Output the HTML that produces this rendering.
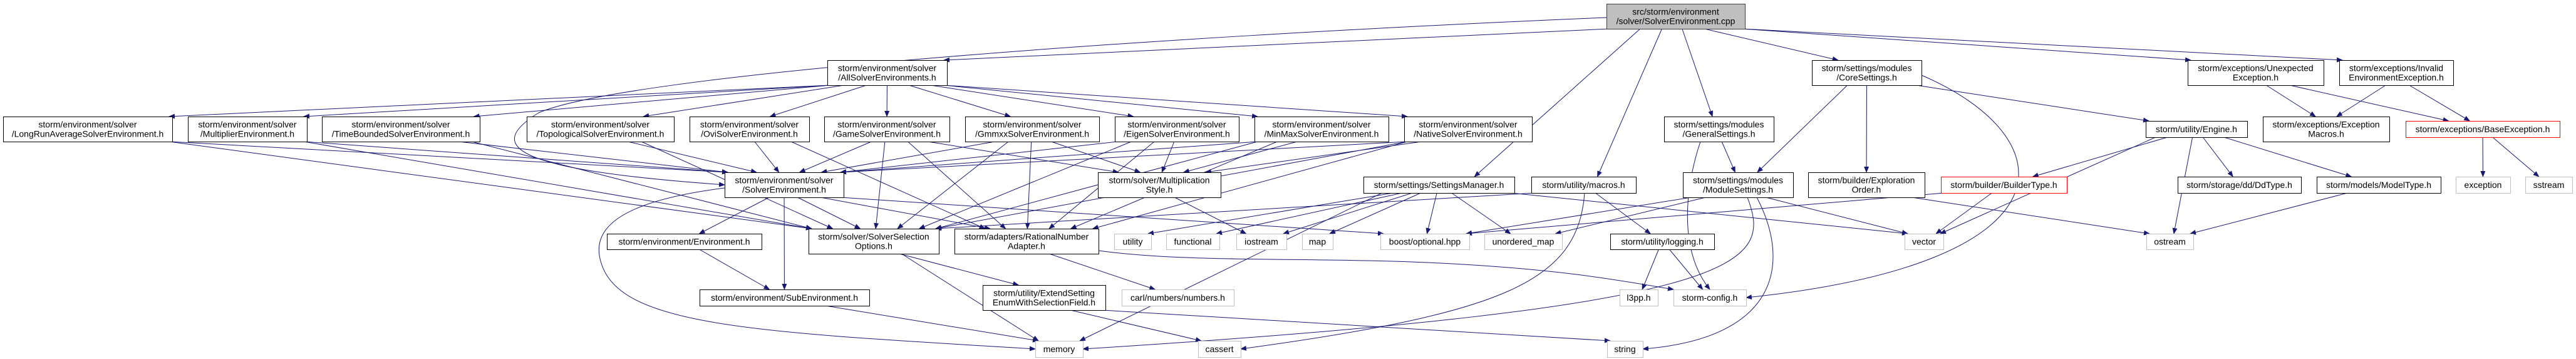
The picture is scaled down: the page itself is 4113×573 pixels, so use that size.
<!DOCTYPE html>
<html><head><meta charset="utf-8"><style>
html,body{margin:0;padding:0;background:#fff;}
svg{display:block;}
text{font-family:"Liberation Sans",sans-serif;font-size:14px;fill:#000;}
</style></head><body>
<svg id="g" width="4113" height="573" viewBox="0 0 4113 573" xmlns="http://www.w3.org/2000/svg">
<defs><marker id="a" markerWidth="10" markerHeight="8" refX="9" refY="4" orient="auto" markerUnits="userSpaceOnUse"><path d="M0,0 L10,4 L0,8 z" fill="#191970"/></marker></defs>
<g id="e" stroke="#191970" stroke-width="1" fill="none"></g>
<g id="n"></g>
</svg>
<script>
var N={
cpp:[2565,2786,6,46,["src/storm/environment","/solver/SolverEnvironment.cpp"],"c"],
all:[1321,1512,96,136,["storm/environment/solver","/AllSolverEnvironments.h"],"b"],
lra:[5,275,186,226,["storm/environment/solver","/LongRunAverageSolverEnvironment.h"],"b"],
mul:[300,490,186,226,["storm/environment/solver","/MultiplierEnvironment.h"],"b"],
tb:[514,766,186,226,["storm/environment/solver","/TimeBoundedSolverEnvironment.h"],"b"],
top:[841,1076,186,226,["storm/environment/solver","/TopologicalSolverEnvironment.h"],"b"],
ovi:[1101,1292,186,226,["storm/environment/solver","/OviSolverEnvironment.h"],"b"],
game:[1316,1516,186,226,["storm/environment/solver","/GameSolverEnvironment.h"],"b"],
gmm:[1541,1755,186,226,["storm/environment/solver","/GmmxxSolverEnvironment.h"],"b"],
eig:[1780,1978,186,226,["storm/environment/solver","/EigenSolverEnvironment.h"],"b"],
mm:[2003,2217,186,226,["storm/environment/solver","/MinMaxSolverEnvironment.h"],"b"],
nat:[2242,2446,186,226,["storm/environment/solver","/NativeSolverEnvironment.h"],"b"],
se:[1157,1347,275,315,["storm/environment/solver","/SolverEnvironment.h"],"b"],
env:[969,1216,373,398,["storm/environment/Environment.h"],"b"],
sub:[1117,1388,462,488,["storm/environment/SubEnvironment.h"],"b"],
sso:[1291,1499,365,405,["storm/solver/SolverSelection","Options.h"],"b"],
ms:[1753,1949,275,315,["storm/solver/Multiplication","Style.h"],"b"],
sm:[2177,2418,282,308,["storm/settings/SettingsManager.h"],"b"],
mac:[2445,2612,282,308,["storm/utility/macros.h"],"b"],
rna:[1524,1754,365,405,["storm/adapters/RationalNumber","Adapter.h"],"b"],
util:[1779,1838,373,398,["utility"],"g"],
func:[1862,1947,373,398,["functional"],"g"],
ios:[1974,2054,373,398,["iostream"],"g"],
map:[2079,2128,373,398,["map"],"g"],
opt:[2204,2346,373,398,["boost/optional.hpp"],"g"],
um:[2370,2494,373,398,["unordered_map"],"g"],
log:[2571,2737,373,398,["storm/utility/logging.h"],"b"],
ext:[1569,1765,455,495,["storm/utility/ExtendSetting","EnumWithSelectionField.h"],"b"],
carl:[1791,1970,462,488,["carl/numbers/numbers.h"],"g"],
l3:[2586,2647,462,488,["l3pp.h"],"g"],
cfg:[2672,2788,462,488,["storm-config.h"],"g"],
mem:[1653,1729,544,570,["memory"],"g"],
cas:[1913,1981,544,570,["cassert"],"g"],
str:[2566,2623,544,570,["string"],"g"],
gen:[2657,2832,186,226,["storm/settings/modules","/GeneralSettings.h"],"b"],
mod:[2687,2863,275,315,["storm/settings/modules","/ModuleSettings.h"],"b"],
core:[2893,3068,96,136,["storm/settings/modules","/CoreSettings.h"],"b"],
une:[3493,3710,96,136,["storm/exceptions/Unexpected","Exception.h"],"b"],
inv:[3735,3917,96,136,["storm/exceptions/Invalid","EnvironmentException.h"],"b"],
eng:[3426,3588,193,219,["storm/utility/Engine.h"],"b"],
em:[3613,3815,186,226,["storm/exceptions/Exception","Macros.h"],"b"],
be:[3841,4087,193,219,["storm/exceptions/BaseException.h"],"r"],
eo:[2887,3073,275,315,["storm/builder/Exploration","Order.h"],"b"],
bt:[3099,3300,282,308,["storm/builder/BuilderType.h"],"r"],
dd:[3477,3674,282,308,["storm/storage/dd/DdType.h"],"b"],
mt:[3699,3897,282,308,["storm/models/ModelType.h"],"b"],
exc:[3921,4008,282,308,["exception"],"g"],
ss:[4032,4107,282,308,["sstream"],"g"],
vec:[3041,3103,373,398,["vector"],"g"],
ost:[3427,3502,373,398,["ostream"],"g"]
};
var E=[
["cpp","all"],["cpp","se","M2565,28 C1800,60 1000,120 860,180 C780,230 800,270 1157,295"],["cpp","sm"],["cpp","mac"],["cpp","gen"],["cpp","core"],["cpp","une"],["cpp","inv"],
["all","lra"],["all","mul"],["all","tb"],["all","top"],["all","ovi"],["all","game"],["all","gmm"],["all","eig"],["all","mm"],["all","nat"],
["lra","se"],["lra","sso"],["mul","se"],["mul","sso"],["tb","se"],["tb","sso"],["top","se"],["top","sso"],["ovi","se"],["ovi","rna"],
["game","se"],["game","sso"],["game","rna"],["game","ms"],["gmm","se"],["gmm","sso"],["gmm","rna"],["gmm","ms"],
["eig","se"],["eig","sso"],["eig","rna"],["eig","ms"],["mm","se"],["mm","sso"],["mm","rna"],["mm","ms"],
["nat","se"],["nat","sso"],["nat","rna"],["nat","ms"],
["se","env"],["se","sub"],["se","sso"],["se","rna"],["se","opt"],["se","mem","M1157,300 C1000,320 940,360 960,420 C990,520 1200,530 1653,557"],
["env","sub"],["sub","mem"],["sso","ext"],["sso","mem"],["ext","cas"],["ext","str"],["rna","carl"],["rna","cfg","M1754,400 C1900,420 2100,410 2300,420 C2500,430 2600,450 2672,462"],
["ms","ios"],["sm","util"],["sm","func"],["sm","ios"],["sm","map"],["sm","opt"],["sm","um"],["sm","vec"],["sm","mem"],
["mac","log"],["mac","cas","M2530,308 C2520,450 2400,500 1981,557"],["mac","sso"],
["log","l3"],["log","cfg"],["gen","mod"],["gen","cfg","M2715,226 C2690,300 2680,400 2730,462"],
["mod","um"],["mod","vec"],["mod","str","M2805,315 C2860,420 2840,540 2623,557"],["mod","opt"],["mod","mem","M2790,315 C2830,420 2800,490 1729,557"],
["core","mod"],["core","eo"],["core","eng"],["core","cfg","M3068,120 C3300,220 3320,420 2788,475"],
["eo","ost"],["eng","bt"],["eng","vec"],["eng","ost"],["eng","dd"],["eng","mt"],["bt","vec"],["bt","opt"],["mt","ost"],
["une","em"],["une","be"],["inv","em"],["inv","be"],["be","exc"],["be","ss"]
];
var eg=document.getElementById("e"),ng=document.getElementById("n"),S="http://www.w3.org/2000/svg";
function el(t,a,p){var e=document.createElementNS(S,t);for(var k in a)e.setAttribute(k,a[k]);p.appendChild(e);return e;}
E.forEach(function(d){var s=N[d[0]],t=N[d[1]];var p;
if(d[2])p=d[2];else{
var sx=(s[0]+s[1])/2,sy=s[3],tx=(t[0]+t[1])/2,ty=t[2];
if(t[2]>=s[3]){var dx=tx-sx;sx+=Math.max(-(s[1]-s[0])/2+5,Math.min((s[1]-s[0])/2-5,dx*0.15));tx-=Math.max(-(t[1]-t[0])/2+5,Math.min((t[1]-t[0])/2-5,dx*0.15));}
p="M"+sx+","+sy+" L"+tx+","+ty;}
el("path",{d:p,"marker-end":"url(#a)"},eg);});
for(var k in N){var n=N[k];var st=n[5]=="c"?["#bfbfbf","#404040"]:n[5]=="g"?["#fff","#bfbfbf"]:n[5]=="r"?["#fff","#ff0000"]:["#fff","#000"];
el("rect",{x:n[0]+.5,y:n[2]+.5,width:n[1]-n[0],height:n[3]-n[2],fill:st[0],stroke:st[1],"stroke-width":1},ng);
var cx=(n[0]+n[1])/2,cy=(n[2]+n[3])/2,L=n[4];
L.forEach(function(s,i){var y=cy+5+(i-(L.length-1)/2)*15;var t=el("text",{x:cx,y:y,"text-anchor":"middle"},ng);t.textContent=s;});}
</script>
</body></html>
